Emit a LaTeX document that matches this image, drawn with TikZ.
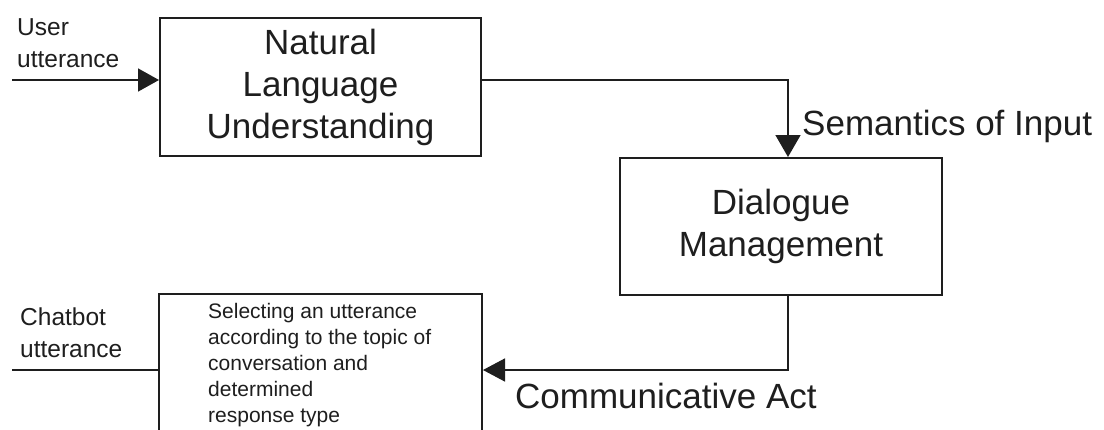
\documentclass[tikz,border=0pt]{standalone}
\usepackage{fontspec}
\setmainfont{Liberation Sans}
\usetikzlibrary{arrows.meta}
\definecolor{ink}{RGB}{30,30,30}
\begin{document}
\begin{tikzpicture}[x=1pt,y=-1pt,
  every node/.style={text=ink},
  box/.style={draw=ink, line width=2pt, inner sep=0pt, anchor=north west},
  conn/.style={draw=ink, line width=1.6pt},
  tip/.style={-{Triangle[length=21pt,width=23pt]}},
  big/.style={font=\fontsize{35}{42}\selectfont},
  side/.style={font=\fontsize{24.5}{32}\selectfont, align=left, inner sep=0pt},
  note/.style={font=\fontsize{21}{26}\selectfont, align=left, inner sep=0pt}]
\useasboundingbox (0,0) rectangle (1104,429);
\clip (0,0) rectangle (1104,429);

% processing stages
\node[box, big, align=center, minimum width=321pt, minimum height=138pt] (nlu) at (159,17)
  {Natural\\Language\\Understanding};
\node[box, big, align=center, minimum width=322pt, minimum height=137pt] (dm) at (619,157)
  {Dialogue\\Management};
\node[box, minimum width=323pt, minimum height=160pt] (sel) at (158,293) {};
% multi-line text: the base anchor sits on the last line
\node[note, anchor=base west] (seltext) at (208,422)
  {Selecting an utterance\\according to the topic of\\conversation and\\determined\\response type};

% routing points
\coordinate (uin) at (12,80);
\coordinate (c1) at (788,80);
\coordinate (c2) at (788,370);
\coordinate (cout) at (12,370);

% connectors
\draw[conn, tip] (uin) -- (uin -| nlu.west);
\draw[conn, -{Triangle[length=22pt,width=25pt]}] (uin -| nlu.east) -- (c1) -- (c1 |- dm.north);
\draw[conn, -{Triangle[length=22pt,width=23pt]}] (c1 |- dm.south) -- (c2) -- (c2 -| sel.east);
\draw[conn] (c2 -| sel.west) -- (cout);

% labels
\node[side, anchor=base west] (ulab) at (17,67) {User\\utterance};
\node[side, anchor=base west] (clab) at (20,357) {Chatbot\\utterance};
\node[big, inner sep=0pt, anchor=base west] (sem) at (802,135) {Semantics of Input};
\node[big, inner sep=0pt, anchor=base west] (act) at (515,408) {Communicative Act};
\end{tikzpicture}
\end{document}
